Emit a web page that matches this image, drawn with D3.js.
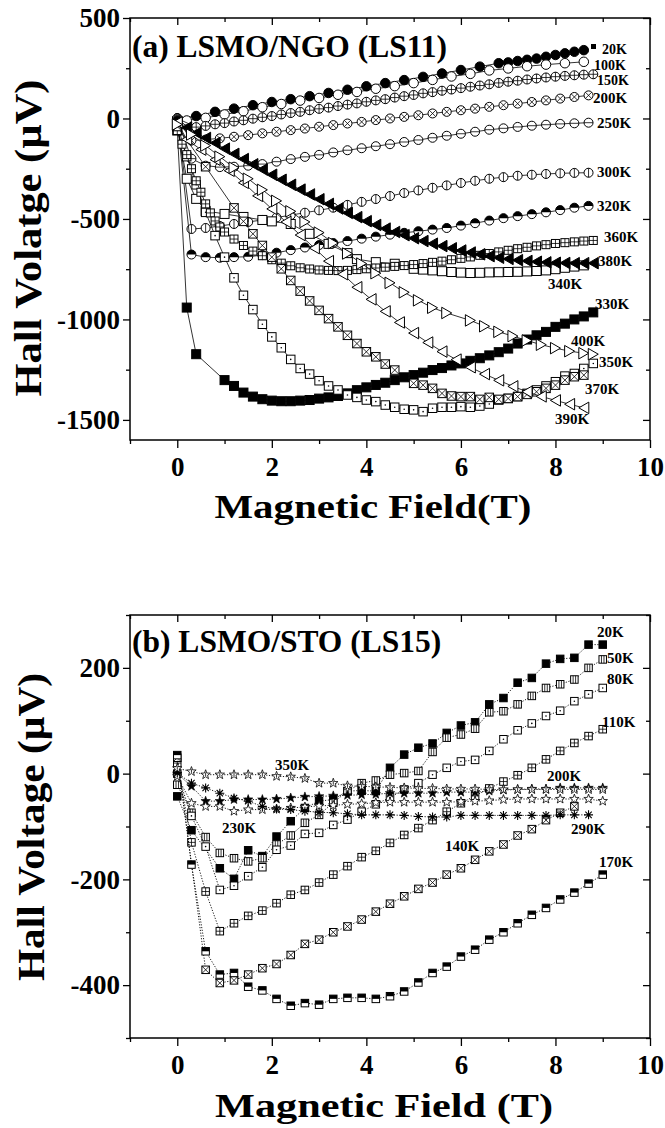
<!DOCTYPE html>
<html>
<head>
<meta charset="utf-8">
<script src="https://cdn.jsdelivr.net/npm/d3@7"></script>
<style>
  html, body { margin: 0; padding: 0; background: #fff; }
  svg { display: block; }
</style>
</head>
<body>
<svg id="chart" width="665" height="1128"></svg>
<script>
// ================= Panel (a): LSMO/NGO (LS11) =================
// Field sweeps (T)
const fieldA_03 = [0,0.3,0.6,0.9,1.2,1.5,1.8,2.1,2.4,2.7,3.0,3.3,3.6,3.9,4.2,4.5,4.8,5.1,5.4,5.7,6.0,6.3,6.6,6.9,7.2,7.5,7.8,8.1,8.4,8.7];
const fieldA_02 = [0,0.2,0.4,0.6,0.8,1.0,1.2,1.4,1.6,1.8,2.0,2.2,2.4,2.6,2.8,3.0,3.2,3.4,3.6,3.8,4.0,4.2,4.4,4.6,4.8,5.0,5.2,5.4,5.6,5.8,6.0,6.2,6.4,6.6,6.8,7.0,7.2,7.4,7.6,7.8,8.0,8.2,8.4,8.6,8.8];
const fieldA_20K = [0,0.4,0.8,1.2,1.6,2.0,2.4,2.8,3.2,3.6,4.0,4.4,4.8,5.2,5.6,6.0,6.4,6.8,7.0,7.2,7.4,7.6,7.8,8.0,8.2,8.4,8.6];
const fieldA_100K = [0,0.2,0.6,1.0,1.4,1.8,2.2,2.6,3.0,3.4,3.8,4.2,4.6,5.0,5.4,5.8,6.2,6.6,7.0,7.4,7.8,8.2,8.6];
const fieldA_150K = [0,0.4,0.6,0.8,1.0,1.2,1.4,1.6,1.8,2.0,2.2,2.4,2.6,2.8,3.0,3.2,3.4,3.6,3.8,4.0,4.2,4.4,4.6,4.8,5.0,5.2,5.4,5.6,5.8,6.0,6.2,6.4,6.6,6.8,7.0,7.2,7.4,7.6,7.8,8.0,8.2,8.4,8.6,8.8];
const fieldA_330K = [0,0.2,0.4,1.0,1.2,1.4,1.6,1.8,2.0,2.2,2.4,2.6,2.8,3.0,3.2,3.4,3.6,3.8,4.0,4.2,4.4,4.6,4.8,5.0,5.2,5.4,5.6,5.8,6.0,6.2,6.4,6.6,6.8,7.0,7.2,7.4,7.6,7.8,8.0,8.2,8.4,8.6,8.8];
const fieldA_340K = [0,0.2,0.4,0.6,1.0,1.4,1.8,2.0,2.4,2.8,3.2,3.6,3.8,4.2,4.6,5.0,5.2,5.4,5.6,5.8,6.0,6.2,6.4,6.6,6.8,7.0,7.2,7.4,7.6,7.8,8.0,8.2,8.4,8.6];
const fieldA_360K = [0,0.1,0.2,0.3,0.4,0.5,0.6,0.7,0.8,0.9,1.0,1.2,1.4,1.6,1.8,2.0,2.2,2.4,2.6,2.8,3.0,3.2,3.4,3.6,3.8,4.0,4.2,4.4,4.6,4.8,5.0,5.2,5.4,5.6,5.8,6.0,6.2,6.4,6.6,6.8,7.0,7.2,7.4,7.6,7.8,8.0,8.2,8.4,8.6,8.8];
const fieldA_370K = [0,0.6,1.2,1.4,1.6,1.8,2.0,2.2,2.4,2.6,2.8,3.0,3.2,3.4,3.6,3.8,4.0,4.2,4.4,4.6,5.0,5.2,5.4,5.6,5.8,6.0,6.2,6.4,6.6,6.8,7.0,7.2,7.4,7.6,7.8,8.0,8.2,8.4,8.6];
const fieldA_390K = [0,0.2,0.5,0.8,1.1,1.4,1.7,2.0,2.3,2.6,2.9,3.2,3.5,3.8,4.1,4.4,4.7,5.0,5.3,5.6,5.9,6.2,6.5,6.8,7.1,7.4,7.7,8.0,8.3,8.6];
const fieldA_400K = [0,0.3,0.6,0.9,1.2,1.5,1.8,2.1,2.4,2.7,3.0,3.3,3.6,3.9,4.2,4.5,4.8,5.1,5.4,5.7,6.2,6.5,6.8,7.1,7.4,7.7,8.0,8.3,8.6,8.8];

// Hall voltage (µV)
const hallA_20K  = [0,12,33,49,66,82,96,111,127,143,160,176,191,207,224,241,258,275,279,286,292,298,307,316,324,332,340];
const hallA_100K = [0,-10,3,20,36,56,72,89,102,118,132,148,161,176,192,209,222,239,249,260,268,275,282];
const hallA_150K = [0,-43,-37,-29,-23,-15,-9,-1,6,12,20,27,33,41,48,54,62,69,75,83,90,96,104,111,117,125,131,138,144,151,158,164,170,177,183,188,194,199,204,208,212,215,218,220];
const hallA_200K = [0,-110,-105,-99,-91,-83,-74,-66,-58,-50,-41,-33,-25,-17,-8,0,8,16,25,33,41,49,58,66,74,82,90,99,107,115];
const hallA_250K = [-5,-200,-235,-242,-240,-235,-227,-215,-202,-191,-181,-169,-158,-148,-138,-128,-117,-107,-96,-86,-76,-66,-56,-49,-42,-36,-31,-27,-24,-21];
const hallA_300K = [-10,-550,-545,-535,-525,-515,-505,-493,-481,-469,-457,-444,-430,-415,-401,-386,-371,-358,-345,-333,-321,-310,-300,-292,-285,-280,-276,-273,-271,-270];
const hallA_320K = [-10,-677,-690,-693,-690,-688,-680,-668,-655,-642,-630,-620,-610,-598,-588,-578,-569,-561,-553,-545,-533,-521,-508,-496,-486,-476,-467,-456,-444,-435];
const hallA_330K = [-60,-941,-1173,-1302,-1331,-1364,-1384,-1397,-1404,-1407,-1407,-1404,-1401,-1394,-1388,-1381,-1368,-1352,-1338,-1326,-1315,-1302,-1288,-1277,-1265,-1252,-1242,-1229,-1219,-1206,-1193,-1179,-1163,-1145,-1120,-1100,-1079,-1062,-1037,-1021,-1000,-985,-965];
const hallA_340K = [-40,-300,-400,-460,-475,-490,-505,-512,-525,-574,-624,-670,-700,-715,-723,-748,-752,-756,-760,-764,-767,-769,-768,-766,-765,-764,-763,-761,-759,-756,-750,-743,-737,-731];
const hallA_350K = [-30,-190,-330,-467,-583,-690,-793,-880,-951,-1024,-1087,-1141,-1199,-1244,-1272,-1305,-1331,-1351,-1376,-1388,-1401,-1409,-1426,-1437,-1447,-1450,-1459,-1442,-1437,-1437,-1434,-1437,-1431,-1421,-1401,-1393,-1384,-1368,-1351,-1331,-1310,-1282,-1269,-1244,-1219];
const hallA_360K = [-60,-128,-180,-250,-310,-367,-425,-470,-510,-540,-565,-600,-632,-660,-683,-703,-720,-733,-743,-749,-754,-756,-757,-756,-752,-748,-744,-740,-736,-732,-727,-722,-716,-710,-703,-696,-689,-681,-672,-664,-656,-648,-641,-634,-628,-622,-618,-614,-610,-607];
const hallA_370K = [-40,-240,-445,-512,-574,-632,-690,-748,-806,-859,-908,-955,-996,-1037,-1079,-1120,-1161,-1186,-1222,-1252,-1318,-1327,-1343,-1368,-1381,-1384,-1384,-1398,-1388,-1398,-1393,-1384,-1373,-1360,-1343,-1327,-1302,-1285,-1277];
const hallA_380K = [-20,-45,-72,-97,-122,-150,-176,-202,-228,-254,-280,-305,-330,-354,-378,-402,-425,-448,-470,-491,-511,-530,-548,-565,-581,-596,-610,-623,-635,-646,-657,-667,-676,-685,-693,-699,-705,-709,-713,-716,-718,-719,-720,-720,-720];
const hallA_390K = [-20,-104,-155,-205,-260,-320,-385,-450,-515,-580,-645,-710,-775,-840,-900,-960,-1015,-1068,-1115,-1160,-1200,-1238,-1272,-1303,-1333,-1360,-1383,-1403,-1422,-1440];
const hallA_400K = [-30,-80,-135,-190,-245,-300,-355,-410,-462,-515,-568,-620,-672,-722,-770,-818,-865,-905,-942,-968,-1005,-1034,-1062,-1083,-1105,-1126,-1143,-1158,-1168,-1173];

// ================= Panel (b): LSMO/STO (LS15) =================
const fieldB = [0,0.3,0.6,0.9,1.2,1.5,1.8,2.1,2.4,2.7,3.0,3.3,3.6,3.9,4.2,4.5,4.8,5.1,5.4,5.7,6.0,6.3,6.6,6.9,7.2,7.5,7.8,8.1,8.4,8.7,9.0];
const hallB_20K  = [-43,-107,null,-179,-199,-145,-156,-119,-90,-65,-52,-49,-33,-32,-33,11,36,49,57,77,91,97,131,143,172,181,208,217,219,244,244];
const hallB_50K  = [-21,-74,-120,-150,-160,-166,-160,-134,-117,-93,-78,-55,-33,-18,-13,-2,1,5,41,68,74,85,116,118,131,147,162,169,178,200,216];
const hallB_80K  = [0,-80,-138,-220,-212,-194,-177,-144,-136,-114,-112,-97,-87,-72,-58,-45,-30,-18,-2,11,23,26,43,65,82,95,109,119,137,150,162];
const hallB_110K = [20,-130,-223,-298,-283,-269,-259,-245,-229,-220,-206,-191,-175,-158,-146,-131,-116,-103,-88,-72,-56,-42,-28,-15,-3,11,27,43,58,71,84];
const hallB_140K = [30,null,-371,-396,-391,-380,-368,-360,-343,-322,-314,-300,-289,-276,-261,-246,-232,-218,-206,-191,-179,-163,-147,-134,-117,-105,-88,-74,-62,null,null];
const hallB_170K = [35,-172,-336,-380,-377,-403,-410,-426,-439,-434,-437,-426,-424,-424,-426,-421,-412,-395,-377,-365,-346,-333,-314,-300,-283,-267,-254,-238,-225,-208,-191];
const hallB_200K = [0,-24,-52,-52,-49,-49,-49,-48,-46,-44,-43,-42,-41,-40,-39,-37,-37,-37,-37,-35,-35,-35,-33,-31,-30,-29,-29,-27,-27,-27,-27];
const hallB_230K = [-5,-56,-62,-62,-71,-68,-68,-67,-65,-63,-61,-60,-58,-57,-55,-54,-54,-54,-54,-54,-53,-52,-51,-49,-48,-48,-48,-48,-48,-48,-52];
const hallB_290K = [1,-18,-27,-37,-46,-52,-62,-67,-68,-71,-73,-74,-76,-78,-78,-78,-79,-81,-82,-82,-79,-79,-79,-79,-79,-79,-79,-78,-78,-78,null];
const hallB_350K = [10,4,-2,-2,-2,-2,-2,-5,-6,-9,-18,-18,-23,-24,-25,-26,-27,-28,-28,-29,-29,-29,-30,-30,-30,-30,-30,-30,-30,-30,-30];

// Axis ticks
const xTicks = [0,2,4,6,8,10];
const xMinor = [-1,1,3,5,7,9];
const yTicksA = [500,0,-500,-1000,-1500];
const yMinorA = [250,-250,-750,-1250];
const yTicksB = [200,0,-200,-400];
const yMinorB = [300,100,-100,-300,-500];

// ---------------------------------------------------------------
const FONT = "'Liberation Serif','Times New Roman',serif";
const svg = d3.select('#chart');

const xA = d3.scaleLinear().domain([-1,10]).range([130,650]);
const yA = d3.scaleLinear().domain([-1600,500]).range([440,18]);
const xB = d3.scaleLinear().domain([-1,10]).range([130,650]);
const yB = d3.scaleLinear().domain([-500,300]).range([1038,615]);

function starPath(R, r) {
  let p = '';
  for (let i = 0; i < 10; i++) {
    const a = -Math.PI / 2 + i * Math.PI / 5;
    const rad = i % 2 ? r : R;
    p += (i ? 'L' : 'M') + (rad * Math.cos(a)).toFixed(2) + ',' + (rad * Math.sin(a)).toFixed(2);
  }
  return p + 'Z';
}

function drawMarker(g, type, s) {
  const h = s / 2;
  const circle = fill => g.append('circle').attr('r', h).attr('fill', fill).attr('stroke', '#000').attr('stroke-width', 1);
  const square = fill => g.append('rect').attr('x', -h).attr('y', -h).attr('width', s).attr('height', s)
      .attr('fill', fill).attr('stroke', '#000').attr('stroke-width', 1);
  const line = d => g.append('path').attr('d', d).attr('fill', 'none').attr('stroke', '#000').attr('stroke-width', 0.8);
  const k = h * 0.707;
  switch (type) {
    case 'circleFilled': circle('#000'); break;
    case 'circleOpen': circle('#fff'); break;
    case 'circlePlus': circle('#fff'); line(`M${-h},0H${h}M0,${-h}V${h}`); break;
    case 'circleX': circle('#fff'); line(`M${-k},${-k}L${k},${k}M${-k},${k}L${k},${-k}`); break;
    case 'circleH': circle('#fff'); line(`M${-h},0H${h}`); break;
    case 'circleV': circle('#fff'); line(`M0,${-h}V${h}`); break;
    case 'circleHalf':
      circle('#fff');
      g.append('path').attr('d', `M${-h},0A${h},${h} 0 0 1 ${h},0Z`).attr('fill', '#000');
      break;
    case 'squareFilled': square('#000'); break;
    case 'squareOpen': square('#fff'); break;
    case 'squareDot':
      square('#fff');
      g.append('circle').attr('r', 0.8).attr('fill', '#000');
      break;
    case 'squarePlus': square('#fff'); line(`M${-h},0H${h}M0,${-h}V${h}`); break;
    case 'squareX': square('#fff'); line(`M${-h},${-h}L${h},${h}M${-h},${h}L${h},${-h}`); break;
    case 'squareBars': square('#fff'); line(`M${-h/3},${-h}V${h}M${h/3},${-h}V${h}`); break;
    case 'squareHalf':
      square('#fff');
      g.append('rect').attr('x', -h).attr('y', -h).attr('width', s).attr('height', h).attr('fill', '#000');
      break;
    case 'triLeftFilled':
    case 'triLeftOpen':
      g.append('path').attr('d', `M${-h},0L${h},${-h * 1.15}L${h},${h * 1.15}Z`)
        .attr('fill', type === 'triLeftFilled' ? '#000' : '#fff').attr('stroke', '#000').attr('stroke-width', 1);
      break;
    case 'triRightOpen':
      g.append('path').attr('d', `M${h},0L${-h},${-h * 1.15}L${-h},${h * 1.15}Z`)
        .attr('fill', '#fff').attr('stroke', '#000').attr('stroke-width', 1);
      break;
    case 'starFilled':
      g.append('path').attr('d', starPath(h * 1.1, h * 0.45)).attr('fill', '#000').attr('stroke', '#000').attr('stroke-width', 0.6);
      break;
    case 'starOpen':
      g.append('path').attr('d', starPath(h * 1.1, h * 0.45)).attr('fill', '#fff').attr('stroke', '#000').attr('stroke-width', 0.8);
      break;
    case 'starLined':
      g.append('path').attr('d', starPath(h * 1.1, h * 0.45)).attr('fill', '#fff').attr('stroke', '#000').attr('stroke-width', 0.8);
      line(`M0,${-h * 0.5}V${h * 0.3}`);
      break;
    case 'asterisk':
      g.append('path').attr('d', `M${-h},0H${h}M0,${-h}V${h}M${-k},${-k}L${k},${k}M${-k},${k}L${k},${-k}`)
        .attr('stroke', '#000').attr('stroke-width', 1.1).attr('fill', 'none');
      break;
  }
}

function plotSeries(layer, x, y, fields, values, style) {
  const pts = fields.map((f, i) => ({ f, v: values[i] })).filter(d => d.v != null);
  layer.append('path').datum(pts)
    .attr('d', d3.line().x(d => x(d.f)).y(d => y(d.v)))
    .attr('fill', 'none').attr('stroke', '#000')
    .attr('stroke-width', style.lw)
    .attr('stroke-dasharray', style.dash || null);
  layer.append('g').selectAll('g').data(pts).join('g')
    .attr('transform', d => `translate(${x(d.f)},${y(d.v)})`)
    .each(function () { drawMarker(d3.select(this), style.marker, style.size); });
}

function drawAxes(g, x, y, yMajor, yMinor) {
  const [xl, xr] = x.range();
  const [yb, yt] = y.range();
  const fmt = d => String(d);
  const styleText = sel => sel.selectAll('text')
    .attr('font-family', FONT).attr('font-weight', 'bold').attr('font-size', 27).attr('fill', '#000');
  const clean = sel => { sel.select('.domain').remove(); sel.selectAll('line').attr('stroke', '#000').attr('stroke-width', 1.3); };

  // bottom: outward ticks with labels
  g.append('g').attr('transform', `translate(0,${yb})`)
    .call(d3.axisBottom(x).tickValues(xTicks).tickSize(8).tickPadding(9).tickFormat(fmt))
    .call(clean).call(styleText);
  g.append('g').attr('transform', `translate(0,${yb})`)
    .call(d3.axisBottom(x).tickValues(xMinor).tickSize(4).tickFormat(''))
    .call(clean);
  // top: inward ticks
  g.append('g').attr('transform', `translate(0,${yt})`)
    .call(d3.axisBottom(x).tickValues(xTicks).tickSize(7).tickFormat(''))
    .call(clean);
  g.append('g').attr('transform', `translate(0,${yt})`)
    .call(d3.axisBottom(x).tickValues(xMinor).tickSize(4).tickFormat(''))
    .call(clean);
  // left: outward ticks with labels
  g.append('g').attr('transform', `translate(${xl},0)`)
    .call(d3.axisLeft(y).tickValues(yMajor).tickSize(7).tickPadding(3).tickFormat(fmt))
    .call(clean).call(styleText);
  g.append('g').attr('transform', `translate(${xl},0)`)
    .call(d3.axisLeft(y).tickValues(yMinor).tickSize(4).tickFormat(''))
    .call(clean);
  // right: inward ticks
  g.append('g').attr('transform', `translate(${xr},0)`)
    .call(d3.axisLeft(y).tickValues(yMajor).tickSize(7).tickFormat(''))
    .call(clean);
  g.append('g').attr('transform', `translate(${xr},0)`)
    .call(d3.axisLeft(y).tickValues(yMinor).tickSize(4).tickFormat(''))
    .call(clean);
  // frame
  g.append('rect').attr('x', xl).attr('y', yt).attr('width', xr - xl).attr('height', yb - yt)
    .attr('fill', 'none').attr('stroke', '#000').attr('stroke-width', 1.5);
}

function addText(g, str, x, y, size, opts = {}) {
  const t = g.append('text').attr('x', x).attr('y', y).text(str)
    .attr('font-family', FONT).attr('font-weight', 'bold').attr('font-size', size).attr('fill', '#000')
    .attr('text-anchor', opts.anchor || 'start');
  if (opts.length) t.attr('textLength', opts.length).attr('lengthAdjust', 'spacingAndGlyphs');
  if (opts.rotate) t.attr('transform', `rotate(${opts.rotate},${x},${y})`);
  return t;
}

// ---------------- Panel (a) ----------------
const seriesA = [
  { name: '20K',  f: fieldA_20K,  v: hallA_20K,  marker: 'circleFilled', size: 9.5 },
  { name: '100K', f: fieldA_100K, v: hallA_100K, marker: 'circleOpen',   size: 9.5 },
  { name: '150K', f: fieldA_150K, v: hallA_150K, marker: 'circlePlus',   size: 9 },
  { name: '200K', f: fieldA_03,   v: hallA_200K, marker: 'circleX',      size: 9 },
  { name: '250K', f: fieldA_03,   v: hallA_250K, marker: 'circleH',      size: 9 },
  { name: '300K', f: fieldA_03,   v: hallA_300K, marker: 'circleV',      size: 9 },
  { name: '320K', f: fieldA_03,   v: hallA_320K, marker: 'circleHalf',   size: 9 },
  { name: '330K', f: fieldA_330K, v: hallA_330K, marker: 'squareFilled', size: 9 },
  { name: '340K', f: fieldA_340K, v: hallA_340K, marker: 'squareOpen',   size: 9 },
  { name: '350K', f: fieldA_02,   v: hallA_350K, marker: 'squareDot',    size: 8.5 },
  { name: '360K', f: fieldA_360K, v: hallA_360K, marker: 'squarePlus',   size: 8 },
  { name: '370K', f: fieldA_370K, v: hallA_370K, marker: 'squareX',      size: 8.5 },
  { name: '380K', f: fieldA_02,   v: hallA_380K, marker: 'triLeftFilled', size: 10 },
  { name: '390K', f: fieldA_390K, v: hallA_390K, marker: 'triLeftOpen',  size: 10 },
  { name: '400K', f: fieldA_400K, v: hallA_400K, marker: 'triRightOpen', size: 10 }
];
// label anchor (x, baseline) and size; the three top labels sit in a tight stack
const labelPosA = {
  '20K': [602, 54, 14], '100K': [594, 69.5, 14], '150K': [597, 85, 14], '200K': [593, 103, 15], '250K': [597, 128, 15],
  '300K': [597, 177, 15], '320K': [597, 211, 15], '360K': [604, 242, 15], '380K': [598, 266, 15], '340K': [548, 289, 15],
  '330K': [595, 309, 15], '400K': [571, 346, 15], '350K': [599, 367, 15], '370K': [585, 394, 15], '390K': [555, 424, 15]
};

const gA = svg.append('g');
const dataA = gA.append('g');
seriesA.forEach(s => plotSeries(dataA, xA, yA, s.f, s.v, { marker: s.marker, size: s.size, lw: 0.8 }));
drawAxes(gA, xA, yA, yTicksA, yMinorA);
// small end-marker beside the 20K label
gA.append('rect').attr('x', 591).attr('y', 44).attr('width', 5).attr('height', 5).attr('fill', '#000');
seriesA.forEach(s => { const p = labelPosA[s.name]; addText(gA, s.name, p[0], p[1], p[2]); });
addText(gA, '(a) LSMO/NGO (LS11)', 132, 57, 31.5);
addText(gA, 'Hall Volatge (µV)', 41, 238, 38, { anchor: 'middle', rotate: -90, length: 317 });
addText(gA, 'Magnetic Field(T)', 373, 518, 33, { anchor: 'middle', length: 317 });

// ---------------- Panel (b) ----------------
const seriesB = [
  { name: '20K',  v: hallB_20K,  marker: 'squareFilled', size: 7.5 },
  { name: '50K',  v: hallB_50K,  marker: 'squareBars',   size: 7.5 },
  { name: '80K',  v: hallB_80K,  marker: 'squareDot',    size: 7.5 },
  { name: '110K', v: hallB_110K, marker: 'squarePlus',   size: 7.5 },
  { name: '140K', v: hallB_140K, marker: 'squareX',      size: 7.5 },
  { name: '170K', v: hallB_170K, marker: 'squareHalf',   size: 7.5 },
  { name: '200K', v: hallB_200K, marker: 'starFilled',   size: 9 },
  { name: '230K', v: hallB_230K, marker: 'starOpen',     size: 9 },
  { name: '290K', v: hallB_290K, marker: 'asterisk',     size: 9 },
  { name: '350K', v: hallB_350K, marker: 'starLined',    size: 9 }
];
const labelPosB = {
  '20K': [597, 637], '50K': [607, 663], '80K': [607, 684], '110K': [602, 727], '350K': [275, 770],
  '200K': [547, 781], '230K': [222, 833], '290K': [571, 834], '140K': [445, 851], '170K': [599, 867]
};

const gB = svg.append('g');
const dataB = gB.append('g');
seriesB.forEach(s => plotSeries(dataB, xB, yB, fieldB, s.v, { marker: s.marker, size: s.size, lw: 0.9, dash: '1.2,1.6' }));
drawAxes(gB, xB, yB, yTicksB, yMinorB);
seriesB.forEach(s => addText(gB, s.name, labelPosB[s.name][0], labelPosB[s.name][1], 15));
addText(gB, '(b) LSMO/STO (LS15)', 132, 652, 31.5);
addText(gB, 'Hall Voltage (µV)', 44, 827, 38, { anchor: 'middle', rotate: -90, length: 308 });
addText(gB, 'Magnetic Field (T)', 384, 1117, 33, { anchor: 'middle', length: 338 });
</script>
</body>
</html>
